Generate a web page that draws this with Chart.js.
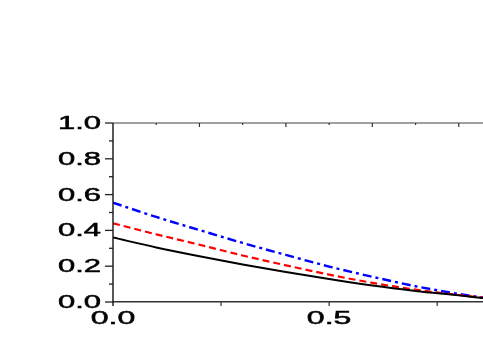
<!DOCTYPE html>
<html>
<head>
<meta charset="utf-8">
<script src="https://cdn.jsdelivr.net/npm/chart.js@4.4.0/dist/chart.umd.min.js"></script>
<style>
    html, body { margin: 0; padding: 0; background: #fff; overflow: hidden; }
    #wrap { width: 483px; height: 345px; position: relative; }
</style>
</head>
<body>
<div id="wrap"><canvas id="chart"></canvas></div>
<script>
// data
const xVals = [0, 0.1, 0.2, 0.3, 0.4, 0.5, 0.6, 0.7, 0.8, 0.856];
const blackVals = [0.36, 0.305, 0.256, 0.21, 0.168, 0.128, 0.092, 0.062, 0.037, 0.022];
const redVals = [0.44, 0.378, 0.32, 0.26, 0.205, 0.153, 0.107, 0.069, 0.039, 0.024];
const blueVals = [0.555, 0.475, 0.402, 0.33, 0.263, 0.198, 0.141, 0.088, 0.045, 0.025];

const yTickLabels = ['0.0', '0.2', '0.4', '0.6', '0.8', '1.0'];
const xTickLabels = ['0.0', '0.5'];
const xMax = 0.856;

function toPoints(ys) {
    return xVals.map((x, i) => ({ x: x, y: ys[i] }));
}

// tick marks + stretched labels, placed through the chart's own scales
const axisPlugin = {
    id: 'axisDecor',
    afterDraw(chart) {
        const ctx = chart.ctx;
        const xs = chart.scales.x;
        const ys = chart.scales.y;
        const area = chart.chartArea;
        ctx.save();

        // top frame line
        ctx.strokeStyle = '#808080';
        ctx.lineWidth = 1.5;
        ctx.beginPath();
        ctx.moveTo(area.left, area.top);
        ctx.lineTo(area.right, area.top);
        ctx.stroke();

        // left axis ticks (outward)
        ctx.strokeStyle = '#222';
        ctx.lineWidth = 1.3;
        for (let i = 0; i <= 10; i++) {
            const py = ys.getPixelForValue(i / 10);
            const len = i % 2 === 0 ? 8 : 4;
            ctx.beginPath();
            ctx.moveTo(area.left - len, py);
            ctx.lineTo(area.left, py);
            ctx.stroke();
        }
        // left axis line reaching a bit below
        ctx.lineWidth = 1.5;
        ctx.beginPath();
        ctx.moveTo(area.left, area.top);
        ctx.lineTo(area.left, area.bottom + 4);
        ctx.stroke();

        // bottom ticks (outward)
        ctx.lineWidth = 1.2;
        ctx.strokeStyle = '#333';
        [0.25, 0.5, 0.75].forEach(v => {
            const px = xs.getPixelForValue(v);
            ctx.beginPath();
            ctx.moveTo(px, area.bottom);
            ctx.lineTo(px, area.bottom + 4);
            ctx.stroke();
        });

        // top ticks (inward)
        for (let i = 1; i <= 8; i++) {
            const px = xs.getPixelForValue(i / 10);
            const len = i % 2 === 0 ? 4 : 2;
            ctx.beginPath();
            ctx.moveTo(px, area.top);
            ctx.lineTo(px, area.top + len);
            ctx.stroke();
        }

        // labels, a little thickened
        ctx.fillStyle = '#000';
        ctx.strokeStyle = '#000';
        ctx.lineWidth = 0.5;
        ctx.font = '18px "Liberation Sans", Arial, sans-serif';
        ctx.textBaseline = 'middle';
        yTickLabels.forEach(lbl => {
            const py = ys.getPixelForValue(parseFloat(lbl));
            ctx.save();
            ctx.translate(area.left - 12, py + 1);
            ctx.scale(1.72, 1);
            ctx.textAlign = 'right';
            ctx.fillText(lbl, 0, 0);
            ctx.strokeText(lbl, 0, 0);
            ctx.restore();
        });
        xTickLabels.forEach(lbl => {
            const px = xs.getPixelForValue(parseFloat(lbl));
            ctx.save();
            ctx.translate(px, area.bottom + 17);
            ctx.scale(1.78, 1);
            ctx.textAlign = 'center';
            ctx.fillText(lbl, 0, 0);
            ctx.strokeText(lbl, 0, 0);
            ctx.restore();
        });
        ctx.restore();
    }
};

const ctx = document.getElementById('chart').getContext('2d');
new Chart(ctx, {
    type: 'line',
    data: {
        datasets: [
            {
                data: toPoints(blackVals),
                borderColor: '#000000',
                borderWidth: 2,
                pointRadius: 0,
                tension: 0.3,
                cubicInterpolationMode: 'monotone'
            },
            {
                data: toPoints(redVals),
                borderColor: '#ff0000',
                borderWidth: 2.2,
                borderDash: [7, 4],
                pointRadius: 0,
                tension: 0.3,
                cubicInterpolationMode: 'monotone'
            },
            {
                data: toPoints(blueVals),
                borderColor: '#0000ff',
                borderWidth: 2.4,
                borderDash: [9, 4, 3, 4],
                pointRadius: 0,
                tension: 0.3,
                cubicInterpolationMode: 'monotone'
            }
        ]
    },
    options: {
        responsive: true,
        maintainAspectRatio: false,
        animation: false,
        layout: { padding: { left: 113, top: 123, right: 0, bottom: 43 } },
        plugins: {
            legend: { display: false },
            tooltip: { enabled: false }
        },
        scales: {
            x: {
                type: 'linear',
                min: 0,
                max: xMax,
                ticks: { display: false },
                grid: { display: false, drawTicks: false },
                border: { display: true, color: '#333', width: 1.5 }
            },
            y: {
                min: 0,
                max: 1,
                ticks: { display: false },
                grid: { display: false, drawTicks: false },
                border: { display: false }
            }
        }
    },
    plugins: [axisPlugin]
});
</script>
</body>
</html>
